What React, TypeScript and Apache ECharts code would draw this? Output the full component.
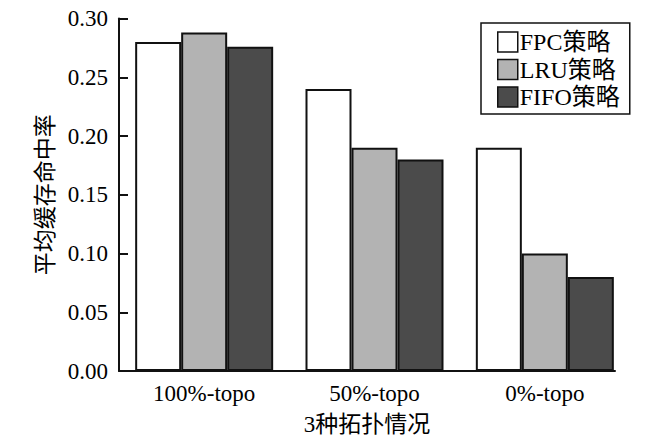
import React, { useEffect, useRef } from "react";
import * as echarts from "echarts";

const categories = ["100%-topo", "50%-topo", "0%-topo"];
const seriesNames = ["FPC策略", "LRU策略", "FIFO策略"];
const fpcValues = [0.28, 0.24, 0.19];
const lruValues = [0.288, 0.19, 0.1];
const fifoValues = [0.276, 0.18, 0.08];
const seriesColors = ["#ffffff", "#b3b3b3", "#4b4b4b"];
const yTicks = { min: 0, max: 0.3, interval: 0.05 };
const xAxisTitle = "3种拓扑情况";
const yAxisTitle = "平均缓存命中率";

const FONT = "'Liberation Serif', 'Times New Roman', 'Noto Sans CJK SC', serif";

export default function App() {
  const ref = useRef<HTMLDivElement>(null);
  useEffect(() => {
    if (!ref.current) return;
    const chart = echarts.init(ref.current, undefined, { renderer: "svg" });
    const values = [fpcValues, lruValues, fifoValues];
    chart.setOption({
      animation: false,
      backgroundColor: "#ffffff",
      textStyle: { fontFamily: FONT, color: "#000" },
      grid: [
        { left: 119, width: 511, top: 18.5, height: 352.5 },
        { left: 119, right: 50, top: 18.5, height: 352.5 },
      ],
      legend: {
        orient: "vertical",
        left: 481,
        top: 23,
        width: 148,
        padding: [7, 10, 5, 16],
        borderColor: "#111",
        borderWidth: 1.5,
        icon: "rect",
        itemWidth: 20,
        itemHeight: 20,
        itemGap: 3.5,
        itemStyle: { borderColor: "#111", borderWidth: 1.5 },
        textStyle: { fontFamily: FONT, fontSize: 24, color: "#000", lineHeight: 24, padding: [0, 0, 0, -3] },
        data: seriesNames,
      },
      xAxis: [
        {
          type: "category",
          gridIndex: 0,
          data: categories,
          boundaryGap: true,
          axisLine: { show: false },
          axisTick: { show: false },
          axisLabel: { fontFamily: FONT, fontSize: 23, color: "#000", margin: 11 },
        },
        {
          type: "value",
          gridIndex: 1,
          min: 0,
          max: 1,
          axisLine: { show: true, lineStyle: { color: "#111", width: 2 } },
          axisTick: { show: false },
          axisLabel: { show: false },
          splitLine: { show: false },
          name: xAxisTitle,
          nameLocation: "middle",
          nameGap: 42,
          nameTextStyle: { fontFamily: FONT, fontSize: 23, color: "#000" },
        },
      ],
      yAxis: [
        {
          type: "value",
          gridIndex: 0,
          min: yTicks.min,
          max: yTicks.max,
          interval: yTicks.interval,
          axisLine: { show: true, lineStyle: { color: "#111", width: 2 } },
          axisTick: { show: true, inside: true, length: 9, lineStyle: { color: "#111", width: 2 } },
          axisLabel: {
            fontFamily: FONT,
            fontSize: 23,
            color: "#000",
            margin: 11,
            formatter: (v: number) => v.toFixed(2),
          },
          splitLine: { show: false },
          name: yAxisTitle,
          nameLocation: "middle",
          nameGap: 60,
          nameTextStyle: { fontFamily: FONT, fontSize: 23, color: "#000" },
        },
        { type: "value", gridIndex: 1, show: false, min: 0, max: 1 },
      ],
      series: seriesNames.map((name, i) => ({
        type: "bar",
        name,
        xAxisIndex: 0,
        yAxisIndex: 0,
        data: values[i],
        barWidth: 46,
        barGap: "0%",
        itemStyle: { color: seriesColors[i], borderColor: "#111", borderWidth: 2 },
      })),
    });
    return () => chart.dispose();
  }, []);
  return <div ref={ref} style={{ width: 665, height: 441, marginLeft: -8, marginTop: -8 }} />;
}
